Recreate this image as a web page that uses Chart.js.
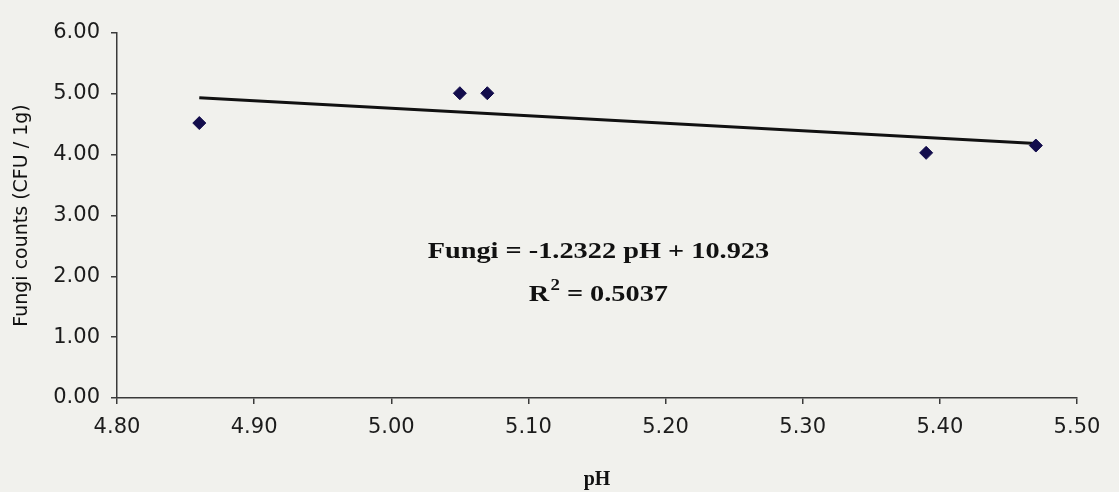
<!DOCTYPE html>
<html lang="en">

<head>
  <meta charset="UTF-8" />
  <title>Fungi counts vs pH</title>
  <script src="https://cdn.jsdelivr.net/npm/chart.js"></script>
  <style>
    html, body { margin: 0; padding: 0; background: #f1f1ed; }
    #wrap { width: 1119px; height: 492px; }
  </style>
</head>

<body>
  <div id="wrap">
    <canvas id="fungiChart" width="1119" height="492"></canvas>
  </div>

  <script>
    // soil pH and fungi counts per plot
    const phValues = [4.86, 5.05, 5.07, 5.39, 5.47];
    const fungiCounts = [4.52, 5.01, 5.01, 4.03, 4.15];

    // linear trendline: Fungi = slope * pH + intercept
    const trendSlope = [-1.2322];
    const trendIntercept = [10.923];
    const rSquared = [0.5037];

    const xTicks = [4.8, 4.9, 5.0, 5.1, 5.2, 5.3, 5.4, 5.5];
    const yTicks = [0, 1, 2, 3, 4, 5, 6];

    const points = phValues.map((x, i) => ({ x: x, y: fungiCounts[i] }));
    const xMin = Math.min(...phValues);
    const xMax = Math.max(...phValues);
    const trend = [
      { x: xMin, y: trendSlope[0] * xMin + trendIntercept[0] },
      { x: xMax, y: trendSlope[0] * xMax + trendIntercept[0] }
    ];

    const inkColor = "#1c1c1c";
    const axisColor = "#3a3a3a";
    const serif = "'Liberation Serif', 'Times New Roman', serif";

    const paperBg = {
      id: "paperBg",
      beforeDraw(chart) {
        const c = chart.ctx;
        c.save();
        c.fillStyle = "#f1f1ed";
        c.fillRect(0, 0, chart.width, chart.height);
        c.restore();
      }
    };

    // equation and R² text next to the trendline (text is drawn a bit wide)
    const equationLabel = {
      id: "equationLabel",
      afterDraw(chart) {
        const c = chart.ctx;
        const xs = chart.scales.x;
        const ys = chart.scales.y;
        const stretch = 1.18;
        c.save();
        c.fillStyle = "#111";
        c.textBaseline = "middle";

        const eq = "Fungi = " + trendSlope[0].toFixed(4) + " pH + " + trendIntercept[0].toFixed(3);
        c.save();
        c.translate(xs.getPixelForValue(5.151), ys.getPixelForValue(2.40));
        c.scale(stretch, 1);
        c.font = "bold 24px " + serif;
        c.textAlign = "center";
        c.fillText(eq, 0, 0);
        c.restore();

        const rest = " = " + rSquared[0].toFixed(4);
        c.save();
        c.translate(xs.getPixelForValue(5.151), ys.getPixelForValue(1.69));
        c.scale(stretch, 1);
        c.font = "bold 24px " + serif;
        const wR = c.measureText("R").width;
        const wRest = c.measureText(rest).width;
        c.font = "bold 16px " + serif;
        const wSup = c.measureText("2").width + 1;
        const x0 = -(wR + wSup + wRest) / 2;
        c.textAlign = "left";
        c.font = "bold 24px " + serif;
        c.fillText("R", x0, 0);
        c.font = "bold 16px " + serif;
        c.fillText("2", x0 + wR + 1, -9);
        c.font = "bold 24px " + serif;
        c.fillText(rest, x0 + wR + wSup, 0);
        c.restore();

        c.restore();
      }
    };

    const ctx = document.getElementById("fungiChart").getContext("2d");

    new Chart(ctx, {
      type: "scatter",
      data: {
        datasets: [
          {
            label: "Fungi",
            data: points,
            pointStyle: "rectRot",
            pointRadius: 6.5,
            pointHoverRadius: 6.5,
            backgroundColor: "#130d4c",
            borderColor: "#130d4c",
            borderWidth: 1
          },
          {
            label: "Linear (Fungi)",
            type: "line",
            data: trend,
            borderColor: "#111",
            borderWidth: 3,
            pointRadius: 0,
            fill: false
          }
        ]
      },
      options: {
        responsive: false,
        animation: false,
        layout: { padding: { top: 33, right: 42, bottom: 0, left: 0 } },
        plugins: {
          legend: { display: false },
          tooltip: { enabled: false }
        },
        scales: {
          x: {
            type: "linear",
            min: 4.8,
            max: 5.5,
            afterFit(scale) { scale.height = 94; },
            afterBuildTicks(scale) { scale.ticks = xTicks.map(v => ({ value: v })); },
            ticks: {
              color: inkColor,
              padding: 11,
              font: { family: "'DejaVu Sans', sans-serif", size: 21 },
              callback: v => Number(v).toFixed(2)
            },
            grid: { display: true, drawOnChartArea: false, drawTicks: true, tickLength: 6, color: axisColor, lineWidth: 1.5 },
            border: { display: true, color: axisColor, width: 1.5 },
            title: {
              display: true,
              text: "pH",
              color: "#111",
              padding: { top: 0, bottom: 0 },
              font: { family: serif, size: 20, weight: "bold" }
            }
          },
          y: {
            min: 0,
            max: 6,
            afterFit(scale) { scale.width = 117; },
            afterBuildTicks(scale) { scale.ticks = yTicks.map(v => ({ value: v })); },
            ticks: {
              color: inkColor,
              padding: 11,
              font: { family: "'DejaVu Sans', sans-serif", size: 21 },
              callback: v => Number(v).toFixed(2)
            },
            grid: { display: true, drawOnChartArea: false, drawTicks: true, tickLength: 6, color: axisColor, lineWidth: 1.5 },
            border: { display: true, color: axisColor, width: 1.5 },
            title: {
              display: true,
              text: "Fungi counts (CFU / 1g)",
              color: "#111",
              padding: { top: 11, bottom: 0 },
              font: { family: "'DejaVu Sans', sans-serif", size: 19 }
            }
          }
        }
      },
      plugins: [paperBg, equationLabel]
    });
  </script>
</body>

</html>
